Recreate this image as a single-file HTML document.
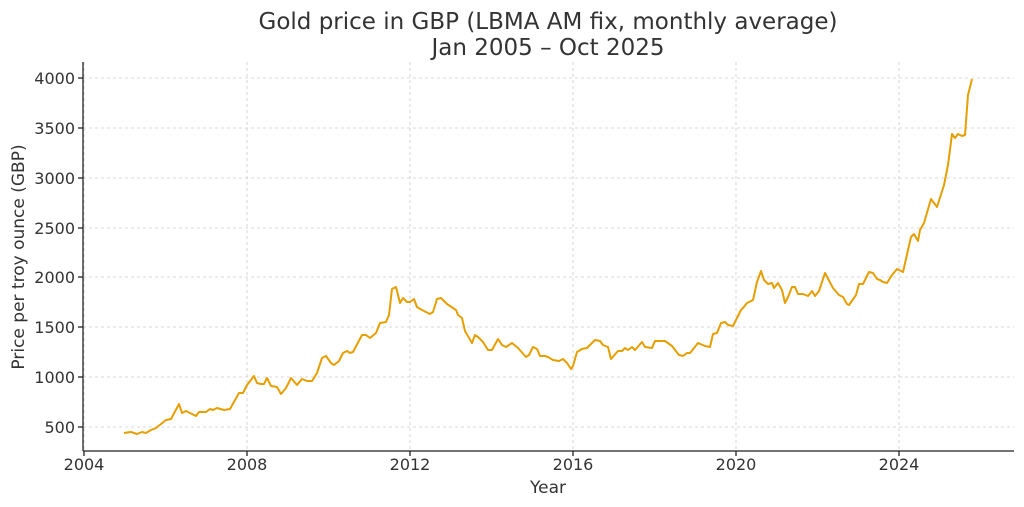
<!DOCTYPE html>
<html><head><meta charset="utf-8"><style>body{margin:0;background:#fff}svg{display:block}text{font-family:"DejaVu Sans","Liberation Sans",sans-serif;fill:#333}</style></head><body>
<svg width="1024" height="507" xmlns="http://www.w3.org/2000/svg">
<rect width="1024" height="507" fill="#fff"/>
<g stroke="#cccccc" stroke-width="0.8" stroke-dasharray="3,3">
<line x1="84" y1="62" x2="84" y2="451"/><line x1="247" y1="62" x2="247" y2="451"/><line x1="410" y1="62" x2="410" y2="451"/><line x1="573" y1="62" x2="573" y2="451"/><line x1="736" y1="62" x2="736" y2="451"/><line x1="899" y1="62" x2="899" y2="451"/>
<line x1="83" y1="78" x2="1014" y2="78"/><line x1="83" y1="128" x2="1014" y2="128"/><line x1="83" y1="178" x2="1014" y2="178"/><line x1="83" y1="228" x2="1014" y2="228"/><line x1="83" y1="277" x2="1014" y2="277"/><line x1="83" y1="327" x2="1014" y2="327"/><line x1="83" y1="377" x2="1014" y2="377"/><line x1="83" y1="427" x2="1014" y2="427"/>
</g>
<g stroke="#222" stroke-width="1.3"><line x1="83" y1="62" x2="83" y2="451"/><line x1="83" y1="451" x2="1014" y2="451"/>
<line x1="84" y1="451" x2="84" y2="456"/><line x1="247" y1="451" x2="247" y2="456"/><line x1="410" y1="451" x2="410" y2="456"/><line x1="573" y1="451" x2="573" y2="456"/><line x1="736" y1="451" x2="736" y2="456"/><line x1="899" y1="451" x2="899" y2="456"/>
<line x1="78" y1="78" x2="83" y2="78"/><line x1="78" y1="128" x2="83" y2="128"/><line x1="78" y1="178" x2="83" y2="178"/><line x1="78" y1="228" x2="83" y2="228"/><line x1="78" y1="277" x2="83" y2="277"/><line x1="78" y1="327" x2="83" y2="327"/><line x1="78" y1="377" x2="83" y2="377"/><line x1="78" y1="427" x2="83" y2="427"/></g>
<g font-size="16" text-anchor="middle"><text x="84" y="470">2004</text><text x="247" y="470">2008</text><text x="410" y="470">2012</text><text x="573" y="470">2016</text><text x="736" y="470">2020</text><text x="899" y="470">2024</text></g>
<g font-size="16" text-anchor="end"><text x="75" y="84">4000</text><text x="75" y="134">3500</text><text x="75" y="184">3000</text><text x="75" y="234">2500</text><text x="75" y="283">2000</text><text x="75" y="333">1500</text><text x="75" y="383">1000</text><text x="75" y="433">500</text></g>
<text x="548" y="493" font-size="17" text-anchor="middle">Year</text>
<text transform="translate(24,257) rotate(-90)" font-size="17" text-anchor="middle">Price per troy ounce (GBP)</text>
<text x="548" y="29" font-size="23" text-anchor="middle">Gold price in GBP (LBMA AM fix, monthly average)</text>
<text x="548" y="55" font-size="23" text-anchor="middle">Jan 2005 – Oct 2025</text>
<polyline fill="none" stroke="#e69f00" stroke-width="2" stroke-linejoin="round" points="124,433 131,432 137,434 142,432 146,433 151,430 156,428 166,420 171,419 179,404 182,413 186,411 196,416 199,412 206,412 210,409 213,410 217,408 224,410 230,409 239,393 243,393 247,385 254,376 257,383 261,384 264,384 267,378 271,386 277,387 281,394 286,388 291,378 297,385 302,379 307,381 312,381 317,373 322,358 326,356 331,363 334,365 339,361 343,353 347,351 350,353 353,352 362,335 366,335 370,338 376,333 380,323 386,322 389,315 392,289 396,287 400,303 403,298 407,302 410,302 414,299 417,307 422,310 430,314 433,312 437,299 441,298 447,304 453,308 456,310 458,315 462,318 465,331 472,343 475,335 478,337 483,342 488,350 492,350 498,339 502,345 506,347 512,343 518,348 526,357 529,355 533,347 537,349 540,356 545,356 548,357 553,360 559,361 563,359 567,363 571,369 573,366 577,352 582,349 587,348 595,340 600,341 603,345 608,347 611,359 618,351 622,351 625,348 628,350 632,347 635,350 642,342 645,347 652,348 655,341 665,341 672,346 679,355 683,356 687,353 690,353 698,343 705,346 710,347 713,334 717,333 721,323 725,322 728,325 733,326 737,318 741,310 743,308 747,303 753,300 757,282 761,271 764,280 768,284 772,283 774,288 778,283 782,290 785,303 788,297 792,287 795,287 798,294 803,294 808,296 812,291 815,296 819,291 825,273 833,288 839,295 843,297 847,304 849,305 856,295 859,284 863,284 869,272 873,273 877,279 880,280 883,282 887,283 892,275 897,269 903,272 911,237 914,234 918,241 920,230 924,223 931,199 937,207 944,185 948,165 952,134 955,138 958,134 962,136 965,135 968,95 972,79"/>
</svg>
</body></html>
